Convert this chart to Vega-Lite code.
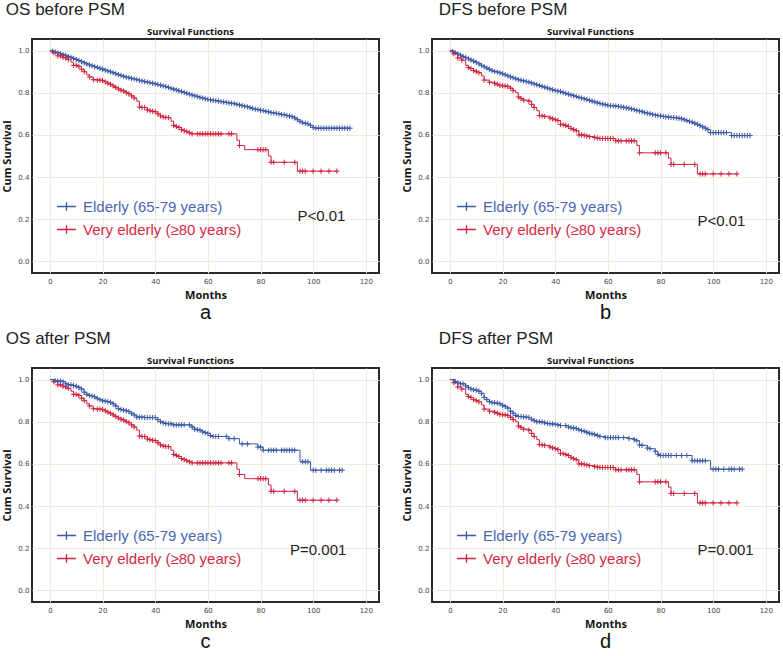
{
"$schema": "https://vega.github.io/schema/vega-lite/v6.json",
"padding": {"left": 0, "top": 0, "right": 0, "bottom": 0},
"background": "white",
"config": {
  "view": {"stroke": "#2a2a2a", "strokeWidth": 2},
  "axis": {"grid": true, "gridColor": "#f0eadb", "gridWidth": 1, "ticks": false, "domain": false,
    "labelFont": "DejaVu Sans", "labelFontSize": 7, "labelColor": "#444",
    "titleFont": "Open Sans", "titleFontSize": 11, "titleFontWeight": "bold", "titleColor": "#111"},
  "axisX": {"labelPadding": 4, "titlePadding": 5},
  "axisY": {"labelPadding": 3, "titlePadding": 5}
},
"datasets": {"km": [
{"m":"OS","s":"b","g":"E","t":0,"v":1,"c":0},{"m":"OS","s":"b","g":"E","t":1,"v":0.997,"c":1},{"m":"OS","s":"b","g":"E","t":2,"v":0.993,"c":1},{"m":"OS","s":"b","g":"E","t":3,"v":0.989,"c":1},{"m":"OS","s":"b","g":"E","t":4,"v":0.985,"c":1},{"m":"OS","s":"b","g":"E","t":5,"v":0.981,"c":1},{"m":"OS","s":"b","g":"E","t":6,"v":0.977,"c":1},{"m":"OS","s":"b","g":"E","t":7,"v":0.972,"c":1},{"m":"OS","s":"b","g":"E","t":8,"v":0.968,"c":1},{"m":"OS","s":"b","g":"E","t":9,"v":0.963,"c":1},{"m":"OS","s":"b","g":"E","t":10,"v":0.958,"c":1},{"m":"OS","s":"b","g":"E","t":11,"v":0.953,"c":1},{"m":"OS","s":"b","g":"E","t":12,"v":0.948,"c":1},{"m":"OS","s":"b","g":"E","t":13,"v":0.942,"c":1},{"m":"OS","s":"b","g":"E","t":14,"v":0.937,"c":1},{"m":"OS","s":"b","g":"E","t":15,"v":0.932,"c":1},{"m":"OS","s":"b","g":"E","t":16,"v":0.928,"c":1},{"m":"OS","s":"b","g":"E","t":17,"v":0.924,"c":1},{"m":"OS","s":"b","g":"E","t":18,"v":0.92,"c":1},{"m":"OS","s":"b","g":"E","t":19,"v":0.916,"c":1},{"m":"OS","s":"b","g":"E","t":20,"v":0.912,"c":1},{"m":"OS","s":"b","g":"E","t":21,"v":0.907,"c":1},{"m":"OS","s":"b","g":"E","t":22,"v":0.903,"c":1},{"m":"OS","s":"b","g":"E","t":23,"v":0.899,"c":1},{"m":"OS","s":"b","g":"E","t":24,"v":0.895,"c":1},{"m":"OS","s":"b","g":"E","t":25,"v":0.89,"c":1},{"m":"OS","s":"b","g":"E","t":26,"v":0.886,"c":1},{"m":"OS","s":"b","g":"E","t":27,"v":0.882,"c":1},{"m":"OS","s":"b","g":"E","t":28,"v":0.878,"c":1},{"m":"OS","s":"b","g":"E","t":29,"v":0.874,"c":1},{"m":"OS","s":"b","g":"E","t":30,"v":0.871,"c":1},{"m":"OS","s":"b","g":"E","t":31,"v":0.868,"c":1},{"m":"OS","s":"b","g":"E","t":32,"v":0.865,"c":1},{"m":"OS","s":"b","g":"E","t":33,"v":0.862,"c":1},{"m":"OS","s":"b","g":"E","t":34,"v":0.859,"c":1},{"m":"OS","s":"b","g":"E","t":35,"v":0.856,"c":1},{"m":"OS","s":"b","g":"E","t":36,"v":0.853,"c":1},{"m":"OS","s":"b","g":"E","t":37,"v":0.85,"c":1},{"m":"OS","s":"b","g":"E","t":38,"v":0.848,"c":1},{"m":"OS","s":"b","g":"E","t":39,"v":0.845,"c":1},{"m":"OS","s":"b","g":"E","t":40,"v":0.842,"c":1},{"m":"OS","s":"b","g":"E","t":41,"v":0.839,"c":1},{"m":"OS","s":"b","g":"E","t":42,"v":0.836,"c":1},{"m":"OS","s":"b","g":"E","t":43,"v":0.832,"c":1},{"m":"OS","s":"b","g":"E","t":44,"v":0.829,"c":1},{"m":"OS","s":"b","g":"E","t":45,"v":0.825,"c":1},{"m":"OS","s":"b","g":"E","t":46,"v":0.821,"c":1},{"m":"OS","s":"b","g":"E","t":47,"v":0.817,"c":1},{"m":"OS","s":"b","g":"E","t":48,"v":0.813,"c":1},{"m":"OS","s":"b","g":"E","t":49,"v":0.809,"c":1},{"m":"OS","s":"b","g":"E","t":50,"v":0.805,"c":1},{"m":"OS","s":"b","g":"E","t":51,"v":0.801,"c":1},{"m":"OS","s":"b","g":"E","t":52,"v":0.797,"c":1},{"m":"OS","s":"b","g":"E","t":53,"v":0.793,"c":1},{"m":"OS","s":"b","g":"E","t":54,"v":0.789,"c":1},{"m":"OS","s":"b","g":"E","t":55,"v":0.785,"c":1},{"m":"OS","s":"b","g":"E","t":56,"v":0.782,"c":1},{"m":"OS","s":"b","g":"E","t":57,"v":0.778,"c":1},{"m":"OS","s":"b","g":"E","t":58,"v":0.775,"c":1},{"m":"OS","s":"b","g":"E","t":59,"v":0.771,"c":1},{"m":"OS","s":"b","g":"E","t":60,"v":0.768,"c":1},{"m":"OS","s":"b","g":"E","t":61,"v":0.766,"c":1},{"m":"OS","s":"b","g":"E","t":62,"v":0.764,"c":1},{"m":"OS","s":"b","g":"E","t":63,"v":0.762,"c":1},{"m":"OS","s":"b","g":"E","t":64,"v":0.76,"c":1},{"m":"OS","s":"b","g":"E","t":65,"v":0.758,"c":1},{"m":"OS","s":"b","g":"E","t":66,"v":0.756,"c":1},{"m":"OS","s":"b","g":"E","t":67,"v":0.754,"c":1},{"m":"OS","s":"b","g":"E","t":68,"v":0.752,"c":1},{"m":"OS","s":"b","g":"E","t":69,"v":0.75,"c":1},{"m":"OS","s":"b","g":"E","t":70,"v":0.748,"c":1},{"m":"OS","s":"b","g":"E","t":71,"v":0.745,"c":1},{"m":"OS","s":"b","g":"E","t":72,"v":0.742,"c":1},{"m":"OS","s":"b","g":"E","t":73,"v":0.739,"c":1},{"m":"OS","s":"b","g":"E","t":74,"v":0.736,"c":1},{"m":"OS","s":"b","g":"E","t":75,"v":0.733,"c":1},{"m":"OS","s":"b","g":"E","t":76,"v":0.729,"c":1},{"m":"OS","s":"b","g":"E","t":77,"v":0.725,"c":1},{"m":"OS","s":"b","g":"E","t":78,"v":0.722,"c":1},{"m":"OS","s":"b","g":"E","t":79,"v":0.72,"c":1},{"m":"OS","s":"b","g":"E","t":80,"v":0.717,"c":1},{"m":"OS","s":"b","g":"E","t":81,"v":0.715,"c":1},{"m":"OS","s":"b","g":"E","t":82,"v":0.712,"c":1},{"m":"OS","s":"b","g":"E","t":83,"v":0.709,"c":1},{"m":"OS","s":"b","g":"E","t":84,"v":0.706,"c":1},{"m":"OS","s":"b","g":"E","t":85,"v":0.704,"c":1},{"m":"OS","s":"b","g":"E","t":86,"v":0.702,"c":1},{"m":"OS","s":"b","g":"E","t":87,"v":0.7,"c":1},{"m":"OS","s":"b","g":"E","t":88,"v":0.697,"c":1},{"m":"OS","s":"b","g":"E","t":89,"v":0.695,"c":1},{"m":"OS","s":"b","g":"E","t":90,"v":0.692,"c":1},{"m":"OS","s":"b","g":"E","t":91,"v":0.689,"c":1},{"m":"OS","s":"b","g":"E","t":92,"v":0.686,"c":1},{"m":"OS","s":"b","g":"E","t":93,"v":0.68,"c":1},{"m":"OS","s":"b","g":"E","t":94,"v":0.672,"c":1},{"m":"OS","s":"b","g":"E","t":95,"v":0.664,"c":1},{"m":"OS","s":"b","g":"E","t":96,"v":0.658,"c":1},{"m":"OS","s":"b","g":"E","t":97,"v":0.655,"c":1},{"m":"OS","s":"b","g":"E","t":98,"v":0.652,"c":1},{"m":"OS","s":"b","g":"E","t":99,"v":0.645,"c":1},{"m":"OS","s":"b","g":"E","t":100,"v":0.635,"c":1},{"m":"OS","s":"b","g":"E","t":101,"v":0.632,"c":1},{"m":"OS","s":"b","g":"E","t":102,"v":0.632,"c":1},{"m":"OS","s":"b","g":"E","t":103,"v":0.632,"c":1},{"m":"OS","s":"b","g":"E","t":104,"v":0.632,"c":1},{"m":"OS","s":"b","g":"E","t":105,"v":0.632,"c":1},{"m":"OS","s":"b","g":"E","t":106,"v":0.632,"c":1},{"m":"OS","s":"b","g":"E","t":107,"v":0.632,"c":1},{"m":"OS","s":"b","g":"E","t":108,"v":0.632,"c":1},{"m":"OS","s":"b","g":"E","t":109,"v":0.632,"c":1},{"m":"OS","s":"b","g":"E","t":110,"v":0.632,"c":1},{"m":"OS","s":"b","g":"E","t":111,"v":0.632,"c":1},{"m":"OS","s":"b","g":"E","t":112,"v":0.632,"c":1},{"m":"OS","s":"b","g":"E","t":113,"v":0.632,"c":1},{"m":"OS","s":"b","g":"E","t":114,"v":0.632,"c":1},

{"m":"OS","s":"x","g":"V","t":0,"v":1,"c":0},{"m":"OS","s":"x","g":"V","t":1.5,"v":0.99,"c":1},{"m":"OS","s":"x","g":"V","t":3,"v":0.975,"c":1},{"m":"OS","s":"x","g":"V","t":4,"v":0.975,"c":1},{"m":"OS","s":"x","g":"V","t":5,"v":0.968,"c":1},{"m":"OS","s":"x","g":"V","t":6,"v":0.965,"c":1},{"m":"OS","s":"x","g":"V","t":7,"v":0.958,"c":1},{"m":"OS","s":"x","g":"V","t":8,"v":0.945,"c":0},{"m":"OS","s":"x","g":"V","t":9,"v":0.93,"c":1},{"m":"OS","s":"x","g":"V","t":10,"v":0.93,"c":1},{"m":"OS","s":"x","g":"V","t":11,"v":0.925,"c":1},{"m":"OS","s":"x","g":"V","t":12,"v":0.912,"c":1},{"m":"OS","s":"x","g":"V","t":13,"v":0.9,"c":1},{"m":"OS","s":"x","g":"V","t":14,"v":0.885,"c":0},{"m":"OS","s":"x","g":"V","t":15,"v":0.875,"c":1},{"m":"OS","s":"x","g":"V","t":16.5,"v":0.862,"c":1},{"m":"OS","s":"x","g":"V","t":18,"v":0.86,"c":1},{"m":"OS","s":"x","g":"V","t":19,"v":0.86,"c":1},{"m":"OS","s":"x","g":"V","t":20,"v":0.858,"c":1},{"m":"OS","s":"x","g":"V","t":21,"v":0.852,"c":1},{"m":"OS","s":"x","g":"V","t":22,"v":0.845,"c":1},{"m":"OS","s":"x","g":"V","t":23,"v":0.84,"c":1},{"m":"OS","s":"x","g":"V","t":24,"v":0.832,"c":1},{"m":"OS","s":"x","g":"V","t":25,"v":0.825,"c":1},{"m":"OS","s":"x","g":"V","t":26,"v":0.818,"c":1},{"m":"OS","s":"x","g":"V","t":27,"v":0.812,"c":1},{"m":"OS","s":"x","g":"V","t":28,"v":0.808,"c":1},{"m":"OS","s":"x","g":"V","t":29,"v":0.8,"c":1},{"m":"OS","s":"x","g":"V","t":30,"v":0.795,"c":1},{"m":"OS","s":"x","g":"V","t":31,"v":0.785,"c":1},{"m":"OS","s":"x","g":"V","t":32,"v":0.775,"c":1},{"m":"OS","s":"x","g":"V","t":33,"v":0.76,"c":0},{"m":"OS","s":"x","g":"V","t":34,"v":0.732,"c":1},{"m":"OS","s":"x","g":"V","t":35,"v":0.73,"c":1},{"m":"OS","s":"x","g":"V","t":36,"v":0.73,"c":1},{"m":"OS","s":"x","g":"V","t":37,"v":0.718,"c":1},{"m":"OS","s":"x","g":"V","t":38,"v":0.715,"c":1},{"m":"OS","s":"x","g":"V","t":39,"v":0.712,"c":1},{"m":"OS","s":"x","g":"V","t":40,"v":0.71,"c":1},{"m":"OS","s":"x","g":"V","t":41,"v":0.7,"c":1},{"m":"OS","s":"x","g":"V","t":42,"v":0.69,"c":1},{"m":"OS","s":"x","g":"V","t":43,"v":0.685,"c":1},{"m":"OS","s":"x","g":"V","t":44,"v":0.683,"c":1},{"m":"OS","s":"x","g":"V","t":45,"v":0.682,"c":1},{"m":"OS","s":"x","g":"V","t":46,"v":0.665,"c":0},{"m":"OS","s":"x","g":"V","t":47,"v":0.645,"c":1},{"m":"OS","s":"x","g":"V","t":48,"v":0.64,"c":1},{"m":"OS","s":"x","g":"V","t":49,"v":0.635,"c":1},{"m":"OS","s":"x","g":"V","t":50,"v":0.625,"c":1},{"m":"OS","s":"x","g":"V","t":51,"v":0.62,"c":1},{"m":"OS","s":"x","g":"V","t":52,"v":0.615,"c":1},{"m":"OS","s":"x","g":"V","t":53,"v":0.61,"c":1},{"m":"OS","s":"x","g":"V","t":54,"v":0.605,"c":1},{"m":"OS","s":"x","g":"V","t":56,"v":0.605,"c":1},{"m":"OS","s":"x","g":"V","t":57,"v":0.605,"c":1},{"m":"OS","s":"x","g":"V","t":58,"v":0.605,"c":1},{"m":"OS","s":"x","g":"V","t":59,"v":0.605,"c":1},{"m":"OS","s":"x","g":"V","t":60,"v":0.605,"c":1},{"m":"OS","s":"x","g":"V","t":61,"v":0.605,"c":1},{"m":"OS","s":"x","g":"V","t":62,"v":0.605,"c":1},{"m":"OS","s":"x","g":"V","t":63,"v":0.605,"c":1},{"m":"OS","s":"x","g":"V","t":64,"v":0.605,"c":1},{"m":"OS","s":"x","g":"V","t":65,"v":0.605,"c":1},{"m":"OS","s":"x","g":"V","t":68,"v":0.605,"c":1},{"m":"OS","s":"x","g":"V","t":69,"v":0.605,"c":1},{"m":"OS","s":"x","g":"V","t":71,"v":0.575,"c":0},{"m":"OS","s":"x","g":"V","t":72,"v":0.55,"c":1},{"m":"OS","s":"x","g":"V","t":74,"v":0.53,"c":0},{"m":"OS","s":"x","g":"V","t":79,"v":0.53,"c":1},{"m":"OS","s":"x","g":"V","t":80,"v":0.53,"c":1},{"m":"OS","s":"x","g":"V","t":81,"v":0.53,"c":1},{"m":"OS","s":"x","g":"V","t":82,"v":0.53,"c":1},{"m":"OS","s":"x","g":"V","t":83,"v":0.5,"c":0},{"m":"OS","s":"x","g":"V","t":84,"v":0.47,"c":1},{"m":"OS","s":"x","g":"V","t":85,"v":0.47,"c":1},{"m":"OS","s":"x","g":"V","t":89,"v":0.47,"c":1},{"m":"OS","s":"x","g":"V","t":93,"v":0.47,"c":1},{"m":"OS","s":"x","g":"V","t":94,"v":0.428,"c":0},{"m":"OS","s":"x","g":"V","t":95,"v":0.428,"c":1},{"m":"OS","s":"x","g":"V","t":96,"v":0.428,"c":1},{"m":"OS","s":"x","g":"V","t":97,"v":0.428,"c":1},{"m":"OS","s":"x","g":"V","t":100,"v":0.428,"c":1},{"m":"OS","s":"x","g":"V","t":103,"v":0.428,"c":1},{"m":"OS","s":"x","g":"V","t":106,"v":0.428,"c":1},{"m":"OS","s":"x","g":"V","t":109,"v":0.428,"c":1},

{"m":"DFS","s":"b","g":"E","t":0,"v":1,"c":0},{"m":"DFS","s":"b","g":"E","t":1,"v":0.995,"c":1},{"m":"DFS","s":"b","g":"E","t":2,"v":0.99,"c":1},{"m":"DFS","s":"b","g":"E","t":3,"v":0.984,"c":1},{"m":"DFS","s":"b","g":"E","t":4,"v":0.978,"c":1},{"m":"DFS","s":"b","g":"E","t":5,"v":0.972,"c":1},{"m":"DFS","s":"b","g":"E","t":6,"v":0.967,"c":1},{"m":"DFS","s":"b","g":"E","t":7,"v":0.961,"c":1},{"m":"DFS","s":"b","g":"E","t":8,"v":0.955,"c":1},{"m":"DFS","s":"b","g":"E","t":9,"v":0.95,"c":1},{"m":"DFS","s":"b","g":"E","t":10,"v":0.944,"c":1},{"m":"DFS","s":"b","g":"E","t":11,"v":0.937,"c":1},{"m":"DFS","s":"b","g":"E","t":12,"v":0.93,"c":1},{"m":"DFS","s":"b","g":"E","t":13,"v":0.923,"c":1},{"m":"DFS","s":"b","g":"E","t":14,"v":0.917,"c":1},{"m":"DFS","s":"b","g":"E","t":15,"v":0.911,"c":1},{"m":"DFS","s":"b","g":"E","t":16,"v":0.905,"c":1},{"m":"DFS","s":"b","g":"E","t":17,"v":0.901,"c":1},{"m":"DFS","s":"b","g":"E","t":18,"v":0.898,"c":1},{"m":"DFS","s":"b","g":"E","t":19,"v":0.894,"c":1},{"m":"DFS","s":"b","g":"E","t":20,"v":0.89,"c":1},{"m":"DFS","s":"b","g":"E","t":21,"v":0.885,"c":1},{"m":"DFS","s":"b","g":"E","t":22,"v":0.88,"c":1},{"m":"DFS","s":"b","g":"E","t":23,"v":0.875,"c":1},{"m":"DFS","s":"b","g":"E","t":24,"v":0.871,"c":1},{"m":"DFS","s":"b","g":"E","t":25,"v":0.866,"c":1},{"m":"DFS","s":"b","g":"E","t":26,"v":0.862,"c":1},{"m":"DFS","s":"b","g":"E","t":27,"v":0.859,"c":1},{"m":"DFS","s":"b","g":"E","t":28,"v":0.856,"c":1},{"m":"DFS","s":"b","g":"E","t":29,"v":0.853,"c":1},{"m":"DFS","s":"b","g":"E","t":30,"v":0.85,"c":1},{"m":"DFS","s":"b","g":"E","t":31,"v":0.846,"c":1},{"m":"DFS","s":"b","g":"E","t":32,"v":0.842,"c":1},{"m":"DFS","s":"b","g":"E","t":33,"v":0.838,"c":1},{"m":"DFS","s":"b","g":"E","t":34,"v":0.834,"c":1},{"m":"DFS","s":"b","g":"E","t":35,"v":0.83,"c":1},{"m":"DFS","s":"b","g":"E","t":36,"v":0.826,"c":1},{"m":"DFS","s":"b","g":"E","t":37,"v":0.822,"c":1},{"m":"DFS","s":"b","g":"E","t":38,"v":0.818,"c":1},{"m":"DFS","s":"b","g":"E","t":39,"v":0.814,"c":1},{"m":"DFS","s":"b","g":"E","t":40,"v":0.811,"c":1},{"m":"DFS","s":"b","g":"E","t":41,"v":0.808,"c":1},{"m":"DFS","s":"b","g":"E","t":42,"v":0.805,"c":1},{"m":"DFS","s":"b","g":"E","t":43,"v":0.801,"c":1},{"m":"DFS","s":"b","g":"E","t":44,"v":0.797,"c":1},{"m":"DFS","s":"b","g":"E","t":45,"v":0.793,"c":1},{"m":"DFS","s":"b","g":"E","t":46,"v":0.789,"c":1},{"m":"DFS","s":"b","g":"E","t":47,"v":0.786,"c":1},{"m":"DFS","s":"b","g":"E","t":48,"v":0.782,"c":1},{"m":"DFS","s":"b","g":"E","t":49,"v":0.778,"c":1},{"m":"DFS","s":"b","g":"E","t":50,"v":0.775,"c":1},{"m":"DFS","s":"b","g":"E","t":51,"v":0.771,"c":1},{"m":"DFS","s":"b","g":"E","t":52,"v":0.768,"c":1},{"m":"DFS","s":"b","g":"E","t":53,"v":0.764,"c":1},{"m":"DFS","s":"b","g":"E","t":54,"v":0.76,"c":1},{"m":"DFS","s":"b","g":"E","t":55,"v":0.756,"c":1},{"m":"DFS","s":"b","g":"E","t":56,"v":0.752,"c":1},{"m":"DFS","s":"b","g":"E","t":57,"v":0.749,"c":1},{"m":"DFS","s":"b","g":"E","t":58,"v":0.746,"c":1},{"m":"DFS","s":"b","g":"E","t":59,"v":0.743,"c":1},{"m":"DFS","s":"b","g":"E","t":60,"v":0.74,"c":1},{"m":"DFS","s":"b","g":"E","t":61,"v":0.739,"c":1},{"m":"DFS","s":"b","g":"E","t":62,"v":0.738,"c":1},{"m":"DFS","s":"b","g":"E","t":63,"v":0.737,"c":1},{"m":"DFS","s":"b","g":"E","t":64,"v":0.735,"c":1},{"m":"DFS","s":"b","g":"E","t":65,"v":0.733,"c":1},{"m":"DFS","s":"b","g":"E","t":66,"v":0.731,"c":1},{"m":"DFS","s":"b","g":"E","t":67,"v":0.728,"c":1},{"m":"DFS","s":"b","g":"E","t":68,"v":0.726,"c":1},{"m":"DFS","s":"b","g":"E","t":69,"v":0.723,"c":1},{"m":"DFS","s":"b","g":"E","t":70,"v":0.72,"c":1},{"m":"DFS","s":"b","g":"E","t":71,"v":0.716,"c":1},{"m":"DFS","s":"b","g":"E","t":72,"v":0.713,"c":1},{"m":"DFS","s":"b","g":"E","t":73,"v":0.71,"c":1},{"m":"DFS","s":"b","g":"E","t":74,"v":0.706,"c":1},{"m":"DFS","s":"b","g":"E","t":75,"v":0.703,"c":1},{"m":"DFS","s":"b","g":"E","t":76,"v":0.7,"c":1},{"m":"DFS","s":"b","g":"E","t":77,"v":0.697,"c":1},{"m":"DFS","s":"b","g":"E","t":78,"v":0.694,"c":1},{"m":"DFS","s":"b","g":"E","t":79,"v":0.692,"c":1},{"m":"DFS","s":"b","g":"E","t":80,"v":0.69,"c":1},{"m":"DFS","s":"b","g":"E","t":81,"v":0.688,"c":1},{"m":"DFS","s":"b","g":"E","t":82,"v":0.686,"c":1},{"m":"DFS","s":"b","g":"E","t":83,"v":0.685,"c":1},{"m":"DFS","s":"b","g":"E","t":84,"v":0.683,"c":1},{"m":"DFS","s":"b","g":"E","t":85,"v":0.682,"c":1},{"m":"DFS","s":"b","g":"E","t":86,"v":0.681,"c":1},{"m":"DFS","s":"b","g":"E","t":87,"v":0.679,"c":1},{"m":"DFS","s":"b","g":"E","t":88,"v":0.676,"c":1},{"m":"DFS","s":"b","g":"E","t":89,"v":0.672,"c":1},{"m":"DFS","s":"b","g":"E","t":90,"v":0.668,"c":1},{"m":"DFS","s":"b","g":"E","t":91,"v":0.664,"c":1},{"m":"DFS","s":"b","g":"E","t":92,"v":0.66,"c":1},{"m":"DFS","s":"b","g":"E","t":93,"v":0.655,"c":1},{"m":"DFS","s":"b","g":"E","t":94,"v":0.65,"c":1},{"m":"DFS","s":"b","g":"E","t":95,"v":0.644,"c":1},{"m":"DFS","s":"b","g":"E","t":96,"v":0.638,"c":1},{"m":"DFS","s":"b","g":"E","t":97,"v":0.632,"c":1},{"m":"DFS","s":"b","g":"E","t":98,"v":0.625,"c":1},{"m":"DFS","s":"b","g":"E","t":99,"v":0.611,"c":1},{"m":"DFS","s":"b","g":"E","t":100,"v":0.611,"c":1},{"m":"DFS","s":"b","g":"E","t":101,"v":0.611,"c":1},{"m":"DFS","s":"b","g":"E","t":102,"v":0.611,"c":1},{"m":"DFS","s":"b","g":"E","t":103,"v":0.611,"c":1},{"m":"DFS","s":"b","g":"E","t":104,"v":0.611,"c":1},{"m":"DFS","s":"b","g":"E","t":105,"v":0.611,"c":1},{"m":"DFS","s":"b","g":"E","t":107,"v":0.597,"c":1},{"m":"DFS","s":"b","g":"E","t":108,"v":0.597,"c":1},{"m":"DFS","s":"b","g":"E","t":109,"v":0.597,"c":1},{"m":"DFS","s":"b","g":"E","t":110,"v":0.597,"c":1},{"m":"DFS","s":"b","g":"E","t":111,"v":0.597,"c":1},{"m":"DFS","s":"b","g":"E","t":112,"v":0.597,"c":1},{"m":"DFS","s":"b","g":"E","t":113,"v":0.597,"c":1},{"m":"DFS","s":"b","g":"E","t":114,"v":0.597,"c":1},

{"m":"DFS","s":"x","g":"V","t":0,"v":1,"c":0},{"m":"DFS","s":"x","g":"V","t":1.5,"v":0.985,"c":1},{"m":"DFS","s":"x","g":"V","t":3,"v":0.965,"c":1},{"m":"DFS","s":"x","g":"V","t":4.5,"v":0.955,"c":1},{"m":"DFS","s":"x","g":"V","t":6,"v":0.93,"c":0},{"m":"DFS","s":"x","g":"V","t":7,"v":0.92,"c":1},{"m":"DFS","s":"x","g":"V","t":8,"v":0.915,"c":1},{"m":"DFS","s":"x","g":"V","t":9,"v":0.905,"c":1},{"m":"DFS","s":"x","g":"V","t":10,"v":0.9,"c":1},{"m":"DFS","s":"x","g":"V","t":11,"v":0.895,"c":1},{"m":"DFS","s":"x","g":"V","t":12,"v":0.88,"c":0},{"m":"DFS","s":"x","g":"V","t":13,"v":0.86,"c":1},{"m":"DFS","s":"x","g":"V","t":15,"v":0.85,"c":1},{"m":"DFS","s":"x","g":"V","t":17,"v":0.845,"c":1},{"m":"DFS","s":"x","g":"V","t":18,"v":0.84,"c":1},{"m":"DFS","s":"x","g":"V","t":19,"v":0.835,"c":1},{"m":"DFS","s":"x","g":"V","t":20,"v":0.833,"c":1},{"m":"DFS","s":"x","g":"V","t":21,"v":0.832,"c":1},{"m":"DFS","s":"x","g":"V","t":22,"v":0.83,"c":1},{"m":"DFS","s":"x","g":"V","t":23,"v":0.822,"c":1},{"m":"DFS","s":"x","g":"V","t":24,"v":0.81,"c":1},{"m":"DFS","s":"x","g":"V","t":25,"v":0.8,"c":0},{"m":"DFS","s":"x","g":"V","t":26,"v":0.78,"c":1},{"m":"DFS","s":"x","g":"V","t":27,"v":0.772,"c":1},{"m":"DFS","s":"x","g":"V","t":28,"v":0.765,"c":1},{"m":"DFS","s":"x","g":"V","t":30,"v":0.76,"c":1},{"m":"DFS","s":"x","g":"V","t":31,"v":0.745,"c":1},{"m":"DFS","s":"x","g":"V","t":32,"v":0.73,"c":1},{"m":"DFS","s":"x","g":"V","t":33,"v":0.715,"c":0},{"m":"DFS","s":"x","g":"V","t":34,"v":0.692,"c":1},{"m":"DFS","s":"x","g":"V","t":35,"v":0.69,"c":1},{"m":"DFS","s":"x","g":"V","t":36,"v":0.688,"c":1},{"m":"DFS","s":"x","g":"V","t":38,"v":0.68,"c":1},{"m":"DFS","s":"x","g":"V","t":39,"v":0.676,"c":1},{"m":"DFS","s":"x","g":"V","t":40,"v":0.672,"c":1},{"m":"DFS","s":"x","g":"V","t":41,"v":0.668,"c":1},{"m":"DFS","s":"x","g":"V","t":42,"v":0.65,"c":1},{"m":"DFS","s":"x","g":"V","t":43,"v":0.648,"c":1},{"m":"DFS","s":"x","g":"V","t":44,"v":0.645,"c":1},{"m":"DFS","s":"x","g":"V","t":45,"v":0.64,"c":1},{"m":"DFS","s":"x","g":"V","t":46,"v":0.63,"c":1},{"m":"DFS","s":"x","g":"V","t":47,"v":0.625,"c":1},{"m":"DFS","s":"x","g":"V","t":48,"v":0.62,"c":1},{"m":"DFS","s":"x","g":"V","t":49,"v":0.6,"c":1},{"m":"DFS","s":"x","g":"V","t":50,"v":0.6,"c":1},{"m":"DFS","s":"x","g":"V","t":51,"v":0.598,"c":1},{"m":"DFS","s":"x","g":"V","t":52,"v":0.595,"c":1},{"m":"DFS","s":"x","g":"V","t":53,"v":0.592,"c":1},{"m":"DFS","s":"x","g":"V","t":55,"v":0.588,"c":1},{"m":"DFS","s":"x","g":"V","t":56,"v":0.585,"c":1},{"m":"DFS","s":"x","g":"V","t":57,"v":0.583,"c":1},{"m":"DFS","s":"x","g":"V","t":58,"v":0.583,"c":1},{"m":"DFS","s":"x","g":"V","t":59,"v":0.583,"c":1},{"m":"DFS","s":"x","g":"V","t":60,"v":0.583,"c":1},{"m":"DFS","s":"x","g":"V","t":61,"v":0.583,"c":1},{"m":"DFS","s":"x","g":"V","t":62,"v":0.583,"c":1},{"m":"DFS","s":"x","g":"V","t":63,"v":0.572,"c":1},{"m":"DFS","s":"x","g":"V","t":64,"v":0.572,"c":1},{"m":"DFS","s":"x","g":"V","t":65,"v":0.572,"c":1},{"m":"DFS","s":"x","g":"V","t":67,"v":0.572,"c":1},{"m":"DFS","s":"x","g":"V","t":68,"v":0.572,"c":1},{"m":"DFS","s":"x","g":"V","t":69,"v":0.572,"c":1},{"m":"DFS","s":"x","g":"V","t":70,"v":0.572,"c":1},{"m":"DFS","s":"x","g":"V","t":71,"v":0.55,"c":0},{"m":"DFS","s":"x","g":"V","t":72,"v":0.515,"c":1},{"m":"DFS","s":"x","g":"V","t":78,"v":0.515,"c":1},{"m":"DFS","s":"x","g":"V","t":79,"v":0.515,"c":1},{"m":"DFS","s":"x","g":"V","t":80,"v":0.515,"c":1},{"m":"DFS","s":"x","g":"V","t":82,"v":0.515,"c":1},{"m":"DFS","s":"x","g":"V","t":83,"v":0.49,"c":0},{"m":"DFS","s":"x","g":"V","t":84,"v":0.46,"c":1},{"m":"DFS","s":"x","g":"V","t":85,"v":0.46,"c":1},{"m":"DFS","s":"x","g":"V","t":89,"v":0.46,"c":1},{"m":"DFS","s":"x","g":"V","t":93,"v":0.46,"c":1},{"m":"DFS","s":"x","g":"V","t":94,"v":0.415,"c":0},{"m":"DFS","s":"x","g":"V","t":95,"v":0.415,"c":1},{"m":"DFS","s":"x","g":"V","t":96,"v":0.415,"c":1},{"m":"DFS","s":"x","g":"V","t":97,"v":0.415,"c":1},{"m":"DFS","s":"x","g":"V","t":100,"v":0.415,"c":1},{"m":"DFS","s":"x","g":"V","t":103,"v":0.415,"c":1},{"m":"DFS","s":"x","g":"V","t":106,"v":0.415,"c":1},{"m":"DFS","s":"x","g":"V","t":109,"v":0.415,"c":1},

{"m":"OS","s":"a","g":"E","t":0,"v":1,"c":0},{"m":"OS","s":"a","g":"E","t":2,"v":0.995,"c":1},{"m":"OS","s":"a","g":"E","t":3,"v":0.993,"c":1},{"m":"OS","s":"a","g":"E","t":4,"v":0.993,"c":1},{"m":"OS","s":"a","g":"E","t":5,"v":0.99,"c":1},{"m":"OS","s":"a","g":"E","t":6,"v":0.98,"c":1},{"m":"OS","s":"a","g":"E","t":7,"v":0.975,"c":1},{"m":"OS","s":"a","g":"E","t":8,"v":0.975,"c":1},{"m":"OS","s":"a","g":"E","t":9,"v":0.972,"c":1},{"m":"OS","s":"a","g":"E","t":10,"v":0.968,"c":1},{"m":"OS","s":"a","g":"E","t":11,"v":0.962,"c":1},{"m":"OS","s":"a","g":"E","t":12,"v":0.955,"c":1},{"m":"OS","s":"a","g":"E","t":13,"v":0.94,"c":1},{"m":"OS","s":"a","g":"E","t":14,"v":0.93,"c":1},{"m":"OS","s":"a","g":"E","t":15,"v":0.925,"c":1},{"m":"OS","s":"a","g":"E","t":16,"v":0.922,"c":1},{"m":"OS","s":"a","g":"E","t":17,"v":0.918,"c":1},{"m":"OS","s":"a","g":"E","t":18,"v":0.91,"c":1},{"m":"OS","s":"a","g":"E","t":19,"v":0.905,"c":1},{"m":"OS","s":"a","g":"E","t":20,"v":0.9,"c":1},{"m":"OS","s":"a","g":"E","t":21,"v":0.898,"c":1},{"m":"OS","s":"a","g":"E","t":22,"v":0.895,"c":1},{"m":"OS","s":"a","g":"E","t":23,"v":0.892,"c":1},{"m":"OS","s":"a","g":"E","t":24,"v":0.885,"c":1},{"m":"OS","s":"a","g":"E","t":25,"v":0.875,"c":1},{"m":"OS","s":"a","g":"E","t":26,"v":0.862,"c":1},{"m":"OS","s":"a","g":"E","t":27,"v":0.858,"c":1},{"m":"OS","s":"a","g":"E","t":28,"v":0.855,"c":1},{"m":"OS","s":"a","g":"E","t":29,"v":0.852,"c":1},{"m":"OS","s":"a","g":"E","t":30,"v":0.848,"c":1},{"m":"OS","s":"a","g":"E","t":31,"v":0.84,"c":1},{"m":"OS","s":"a","g":"E","t":32,"v":0.832,"c":1},{"m":"OS","s":"a","g":"E","t":33,"v":0.822,"c":1},{"m":"OS","s":"a","g":"E","t":34,"v":0.822,"c":1},{"m":"OS","s":"a","g":"E","t":35,"v":0.822,"c":1},{"m":"OS","s":"a","g":"E","t":36,"v":0.82,"c":1},{"m":"OS","s":"a","g":"E","t":37,"v":0.82,"c":1},{"m":"OS","s":"a","g":"E","t":38,"v":0.82,"c":1},{"m":"OS","s":"a","g":"E","t":39,"v":0.82,"c":1},{"m":"OS","s":"a","g":"E","t":40,"v":0.82,"c":1},{"m":"OS","s":"a","g":"E","t":41,"v":0.81,"c":1},{"m":"OS","s":"a","g":"E","t":42,"v":0.8,"c":1},{"m":"OS","s":"a","g":"E","t":43,"v":0.795,"c":1},{"m":"OS","s":"a","g":"E","t":44,"v":0.792,"c":1},{"m":"OS","s":"a","g":"E","t":45,"v":0.79,"c":1},{"m":"OS","s":"a","g":"E","t":46,"v":0.79,"c":1},{"m":"OS","s":"a","g":"E","t":47,"v":0.785,"c":1},{"m":"OS","s":"a","g":"E","t":48,"v":0.785,"c":1},{"m":"OS","s":"a","g":"E","t":49,"v":0.785,"c":1},{"m":"OS","s":"a","g":"E","t":50,"v":0.785,"c":1},{"m":"OS","s":"a","g":"E","t":51,"v":0.785,"c":1},{"m":"OS","s":"a","g":"E","t":53,"v":0.785,"c":1},{"m":"OS","s":"a","g":"E","t":54,"v":0.775,"c":1},{"m":"OS","s":"a","g":"E","t":55,"v":0.765,"c":1},{"m":"OS","s":"a","g":"E","t":56,"v":0.762,"c":1},{"m":"OS","s":"a","g":"E","t":57,"v":0.76,"c":1},{"m":"OS","s":"a","g":"E","t":58,"v":0.752,"c":1},{"m":"OS","s":"a","g":"E","t":59,"v":0.748,"c":1},{"m":"OS","s":"a","g":"E","t":60,"v":0.745,"c":1},{"m":"OS","s":"a","g":"E","t":61,"v":0.735,"c":1},{"m":"OS","s":"a","g":"E","t":62,"v":0.73,"c":1},{"m":"OS","s":"a","g":"E","t":63,"v":0.73,"c":1},{"m":"OS","s":"a","g":"E","t":64,"v":0.73,"c":1},{"m":"OS","s":"a","g":"E","t":67,"v":0.73,"c":1},{"m":"OS","s":"a","g":"E","t":68,"v":0.72,"c":1},{"m":"OS","s":"a","g":"E","t":70,"v":0.72,"c":1},{"m":"OS","s":"a","g":"E","t":72,"v":0.695,"c":0},{"m":"OS","s":"a","g":"E","t":73,"v":0.695,"c":1},{"m":"OS","s":"a","g":"E","t":75,"v":0.695,"c":1},{"m":"OS","s":"a","g":"E","t":79,"v":0.68,"c":1},{"m":"OS","s":"a","g":"E","t":80,"v":0.68,"c":1},{"m":"OS","s":"a","g":"E","t":81,"v":0.665,"c":1},{"m":"OS","s":"a","g":"E","t":83,"v":0.665,"c":1},{"m":"OS","s":"a","g":"E","t":84,"v":0.665,"c":1},{"m":"OS","s":"a","g":"E","t":85,"v":0.665,"c":1},{"m":"OS","s":"a","g":"E","t":86,"v":0.665,"c":1},{"m":"OS","s":"a","g":"E","t":88,"v":0.665,"c":1},{"m":"OS","s":"a","g":"E","t":89,"v":0.665,"c":1},{"m":"OS","s":"a","g":"E","t":90,"v":0.665,"c":1},{"m":"OS","s":"a","g":"E","t":91,"v":0.665,"c":1},{"m":"OS","s":"a","g":"E","t":92,"v":0.665,"c":1},{"m":"OS","s":"a","g":"E","t":93,"v":0.665,"c":1},{"m":"OS","s":"a","g":"E","t":95,"v":0.61,"c":0},{"m":"OS","s":"a","g":"E","t":96,"v":0.61,"c":1},{"m":"OS","s":"a","g":"E","t":97,"v":0.61,"c":1},{"m":"OS","s":"a","g":"E","t":98,"v":0.61,"c":1},{"m":"OS","s":"a","g":"E","t":99,"v":0.57,"c":0},{"m":"OS","s":"a","g":"E","t":100,"v":0.57,"c":1},{"m":"OS","s":"a","g":"E","t":101,"v":0.57,"c":1},{"m":"OS","s":"a","g":"E","t":103,"v":0.57,"c":1},{"m":"OS","s":"a","g":"E","t":105,"v":0.57,"c":1},{"m":"OS","s":"a","g":"E","t":106,"v":0.57,"c":1},{"m":"OS","s":"a","g":"E","t":107,"v":0.57,"c":1},{"m":"OS","s":"a","g":"E","t":108,"v":0.57,"c":1},{"m":"OS","s":"a","g":"E","t":110,"v":0.57,"c":1},{"m":"OS","s":"a","g":"E","t":111,"v":0.57,"c":1},

{"m":"DFS","s":"a","g":"E","t":0,"v":1,"c":0},{"m":"DFS","s":"a","g":"E","t":2,"v":0.99,"c":1},{"m":"DFS","s":"a","g":"E","t":3,"v":0.985,"c":1},{"m":"DFS","s":"a","g":"E","t":4,"v":0.98,"c":1},{"m":"DFS","s":"a","g":"E","t":5,"v":0.98,"c":1},{"m":"DFS","s":"a","g":"E","t":6,"v":0.97,"c":1},{"m":"DFS","s":"a","g":"E","t":7,"v":0.962,"c":1},{"m":"DFS","s":"a","g":"E","t":8,"v":0.955,"c":1},{"m":"DFS","s":"a","g":"E","t":9,"v":0.952,"c":1},{"m":"DFS","s":"a","g":"E","t":10,"v":0.95,"c":1},{"m":"DFS","s":"a","g":"E","t":11,"v":0.945,"c":1},{"m":"DFS","s":"a","g":"E","t":12,"v":0.935,"c":1},{"m":"DFS","s":"a","g":"E","t":13,"v":0.915,"c":1},{"m":"DFS","s":"a","g":"E","t":14,"v":0.905,"c":1},{"m":"DFS","s":"a","g":"E","t":15,"v":0.895,"c":1},{"m":"DFS","s":"a","g":"E","t":16,"v":0.89,"c":1},{"m":"DFS","s":"a","g":"E","t":17,"v":0.89,"c":1},{"m":"DFS","s":"a","g":"E","t":18,"v":0.888,"c":1},{"m":"DFS","s":"a","g":"E","t":19,"v":0.885,"c":1},{"m":"DFS","s":"a","g":"E","t":20,"v":0.878,"c":1},{"m":"DFS","s":"a","g":"E","t":21,"v":0.872,"c":1},{"m":"DFS","s":"a","g":"E","t":22,"v":0.865,"c":1},{"m":"DFS","s":"a","g":"E","t":23,"v":0.85,"c":1},{"m":"DFS","s":"a","g":"E","t":24,"v":0.84,"c":1},{"m":"DFS","s":"a","g":"E","t":25,"v":0.83,"c":1},{"m":"DFS","s":"a","g":"E","t":26,"v":0.825,"c":1},{"m":"DFS","s":"a","g":"E","t":27,"v":0.825,"c":1},{"m":"DFS","s":"a","g":"E","t":28,"v":0.823,"c":1},{"m":"DFS","s":"a","g":"E","t":29,"v":0.822,"c":1},{"m":"DFS","s":"a","g":"E","t":30,"v":0.82,"c":1},{"m":"DFS","s":"a","g":"E","t":31,"v":0.812,"c":1},{"m":"DFS","s":"a","g":"E","t":32,"v":0.805,"c":1},{"m":"DFS","s":"a","g":"E","t":33,"v":0.8,"c":1},{"m":"DFS","s":"a","g":"E","t":34,"v":0.8,"c":1},{"m":"DFS","s":"a","g":"E","t":35,"v":0.798,"c":1},{"m":"DFS","s":"a","g":"E","t":36,"v":0.795,"c":1},{"m":"DFS","s":"a","g":"E","t":37,"v":0.792,"c":1},{"m":"DFS","s":"a","g":"E","t":38,"v":0.79,"c":1},{"m":"DFS","s":"a","g":"E","t":39,"v":0.79,"c":1},{"m":"DFS","s":"a","g":"E","t":40,"v":0.788,"c":1},{"m":"DFS","s":"a","g":"E","t":41,"v":0.785,"c":1},{"m":"DFS","s":"a","g":"E","t":42,"v":0.782,"c":1},{"m":"DFS","s":"a","g":"E","t":44,"v":0.782,"c":1},{"m":"DFS","s":"a","g":"E","t":45,"v":0.775,"c":1},{"m":"DFS","s":"a","g":"E","t":46,"v":0.772,"c":1},{"m":"DFS","s":"a","g":"E","t":47,"v":0.77,"c":1},{"m":"DFS","s":"a","g":"E","t":48,"v":0.768,"c":1},{"m":"DFS","s":"a","g":"E","t":49,"v":0.762,"c":1},{"m":"DFS","s":"a","g":"E","t":50,"v":0.758,"c":1},{"m":"DFS","s":"a","g":"E","t":51,"v":0.755,"c":1},{"m":"DFS","s":"a","g":"E","t":52,"v":0.75,"c":1},{"m":"DFS","s":"a","g":"E","t":53,"v":0.745,"c":1},{"m":"DFS","s":"a","g":"E","t":54,"v":0.742,"c":1},{"m":"DFS","s":"a","g":"E","t":55,"v":0.74,"c":1},{"m":"DFS","s":"a","g":"E","t":56,"v":0.735,"c":1},{"m":"DFS","s":"a","g":"E","t":57,"v":0.73,"c":1},{"m":"DFS","s":"a","g":"E","t":59,"v":0.725,"c":1},{"m":"DFS","s":"a","g":"E","t":60,"v":0.725,"c":1},{"m":"DFS","s":"a","g":"E","t":61,"v":0.725,"c":1},{"m":"DFS","s":"a","g":"E","t":62,"v":0.725,"c":1},{"m":"DFS","s":"a","g":"E","t":63,"v":0.725,"c":1},{"m":"DFS","s":"a","g":"E","t":64,"v":0.725,"c":1},{"m":"DFS","s":"a","g":"E","t":66,"v":0.725,"c":1},{"m":"DFS","s":"a","g":"E","t":68,"v":0.72,"c":1},{"m":"DFS","s":"a","g":"E","t":70,"v":0.715,"c":1},{"m":"DFS","s":"a","g":"E","t":71,"v":0.71,"c":1},{"m":"DFS","s":"a","g":"E","t":72,"v":0.69,"c":1},{"m":"DFS","s":"a","g":"E","t":73,"v":0.688,"c":1},{"m":"DFS","s":"a","g":"E","t":75,"v":0.675,"c":1},{"m":"DFS","s":"a","g":"E","t":76,"v":0.672,"c":1},{"m":"DFS","s":"a","g":"E","t":78,"v":0.66,"c":1},{"m":"DFS","s":"a","g":"E","t":79,"v":0.645,"c":1},{"m":"DFS","s":"a","g":"E","t":80,"v":0.64,"c":1},{"m":"DFS","s":"a","g":"E","t":81,"v":0.64,"c":1},{"m":"DFS","s":"a","g":"E","t":82,"v":0.64,"c":1},{"m":"DFS","s":"a","g":"E","t":83,"v":0.64,"c":1},{"m":"DFS","s":"a","g":"E","t":84,"v":0.64,"c":1},{"m":"DFS","s":"a","g":"E","t":86,"v":0.64,"c":1},{"m":"DFS","s":"a","g":"E","t":88,"v":0.64,"c":1},{"m":"DFS","s":"a","g":"E","t":90,"v":0.64,"c":1},{"m":"DFS","s":"a","g":"E","t":92,"v":0.615,"c":1},{"m":"DFS","s":"a","g":"E","t":93,"v":0.615,"c":1},{"m":"DFS","s":"a","g":"E","t":94,"v":0.615,"c":1},{"m":"DFS","s":"a","g":"E","t":95,"v":0.615,"c":1},{"m":"DFS","s":"a","g":"E","t":96,"v":0.615,"c":1},{"m":"DFS","s":"a","g":"E","t":97,"v":0.615,"c":1},{"m":"DFS","s":"a","g":"E","t":99,"v":0.575,"c":0},{"m":"DFS","s":"a","g":"E","t":100,"v":0.575,"c":1},{"m":"DFS","s":"a","g":"E","t":101,"v":0.575,"c":1},{"m":"DFS","s":"a","g":"E","t":102,"v":0.575,"c":1},{"m":"DFS","s":"a","g":"E","t":104,"v":0.575,"c":1},{"m":"DFS","s":"a","g":"E","t":106,"v":0.575,"c":1},{"m":"DFS","s":"a","g":"E","t":107,"v":0.575,"c":1},{"m":"DFS","s":"a","g":"E","t":108,"v":0.575,"c":1},{"m":"DFS","s":"a","g":"E","t":110,"v":0.575,"c":1},{"m":"DFS","s":"a","g":"E","t":111,"v":0.575,"c":1}
],
"pv": [{"panel": "a", "p": "P<0.01"}, {"panel": "b", "p": "P<0.01"}, {"panel": "c", "p": "P=0.001"}, {"panel": "d", "p": "P=0.001"}]},
"spacing": 5,
"resolve": {"scale": {"color": "independent"}, "legend": {"color": "independent"}},
"vconcat": [
{"hconcat": [
 {"title": {"text": "OS before PSM", "anchor": "start", "font": "Liberation Sans", "fontSize": 17, "fontWeight": "normal", "color": "#222", "offset": 8, "dx": 5},
  "resolve": {"scale": {"color": "independent"}, "legend": {"color": "independent"}},
  "vconcat": [{"title": {"text": "Survival Functions", "anchor": "middle", "font": "Open Sans", "fontSize": 9.5, "fontWeight": "bold", "color": "#111", "offset": 2},
   "resolve": {"scale": {"color": "independent"}, "legend": {"color": "independent"}},
   "vconcat": [{
    "width": 347, "height": 234,
    "title": {"text": "a", "orient": "bottom", "anchor": "middle", "frame": "group", "font": "Liberation Sans", "fontSize": 20, "fontWeight": "normal", "color": "#111", "offset": 3},
    "layer": [
     {"data": {"name": "km"}, "transform": [{"filter": "datum.m == 'OS' && datum.s != 'a'"}], "mark": {"type": "line", "interpolate": "step-after", "strokeWidth": 1},
      "encoding": {
       "x": {"field": "t", "type": "quantitative", "scale": {"domain": [-6.8, 125], "nice": false, "zero": false}, "axis": {"title": "Months", "values": [0,20,40,60,80,100,120]}},
       "y": {"field": "v", "type": "quantitative", "scale": {"domain": [-0.055, 1.055], "nice": false, "zero": false}, "axis": {"title": "Cum Survival", "values": [0,0.2,0.4,0.6,0.8,1], "format": ".1f"}},
       "color": {"field": "g", "type": "nominal", "scale": {"domain": ["E","V"], "range": ["#3a58a8","#d0223f"]},
      "legend": {"title": null, "orient": "none", "legendX": 24, "legendY": 157, "padding": 0, "symbolType": "M-1,0H1M0,-0.45V0.45", "symbolSize": 361, "symbolStrokeWidth": 1.3, "symbolFillColor": "transparent", "labelFont": "Liberation Sans", "labelFontSize": 15, "labelOffset": 6, "rowPadding": 4, "labelLimit": 300,
       "labelExpr": "datum.value == 'E' ? 'Elderly (65-79 years)' : 'Very elderly (≥80 years)'",
       "encode": {"labels": {"update": {"fill": {"signal": "datum.value == 'E' ? '#4b66b3' : '#d42a45'"}}}}}}}},
     {"data": {"name": "km"}, "transform": [{"filter": "datum.m == 'OS' && datum.s != 'a' && datum.c == 1"}], "mark": {"type": "point", "shape": "M-1,0H1M0,-1V1", "filled": false, "size": 28, "strokeWidth": 1, "opacity": 1},
      "encoding": {"x": {"field": "t", "type": "quantitative"}, "y": {"field": "v", "type": "quantitative"}, "color": {"field": "g", "type": "nominal", "legend": null}}},
     {"data": {"name": "pv"}, "transform": [{"filter": "datum.panel == 'a'"}], "mark": {"type": "text", "align": "left", "baseline": "middle", "font": "Liberation Sans", "fontSize": 15, "color": "#222"}, "encoding": {"text": {"field": "p", "type": "nominal"}, "x": {"datum": 94}, "y": {"datum": 0.215}}}
    ]
   }]
  }]
 },
 {"title": {"text": "DFS before PSM", "anchor": "start", "font": "Liberation Sans", "fontSize": 17, "fontWeight": "normal", "color": "#222", "offset": 8, "dx": 38},
  "resolve": {"scale": {"color": "independent"}, "legend": {"color": "independent"}},
  "vconcat": [{"title": {"text": "Survival Functions", "anchor": "middle", "font": "Open Sans", "fontSize": 9.5, "fontWeight": "bold", "color": "#111", "offset": 2},
   "resolve": {"scale": {"color": "independent"}, "legend": {"color": "independent"}},
   "vconcat": [{
    "width": 347, "height": 234,
    "title": {"text": "b", "orient": "bottom", "anchor": "middle", "frame": "group", "font": "Liberation Sans", "fontSize": 20, "fontWeight": "normal", "color": "#111", "offset": 3},
    "layer": [
     {"data": {"name": "km"}, "transform": [{"filter": "datum.m == 'DFS' && datum.s != 'a'"}], "mark": {"type": "line", "interpolate": "step-after", "strokeWidth": 1},
      "encoding": {
       "x": {"field": "t", "type": "quantitative", "scale": {"domain": [-6.8, 125], "nice": false, "zero": false}, "axis": {"title": "Months", "values": [0,20,40,60,80,100,120]}},
       "y": {"field": "v", "type": "quantitative", "scale": {"domain": [-0.055, 1.055], "nice": false, "zero": false}, "axis": {"title": "Cum Survival", "values": [0,0.2,0.4,0.6,0.8,1], "format": ".1f"}},
       "color": {"field": "g", "type": "nominal", "scale": {"domain": ["E","V"], "range": ["#3a58a8","#d0223f"]},
      "legend": {"title": null, "orient": "none", "legendX": 24, "legendY": 157, "padding": 0, "symbolType": "M-1,0H1M0,-0.45V0.45", "symbolSize": 361, "symbolStrokeWidth": 1.3, "symbolFillColor": "transparent", "labelFont": "Liberation Sans", "labelFontSize": 15, "labelOffset": 6, "rowPadding": 4, "labelLimit": 300,
       "labelExpr": "datum.value == 'E' ? 'Elderly (65-79 years)' : 'Very elderly (≥80 years)'",
       "encode": {"labels": {"update": {"fill": {"signal": "datum.value == 'E' ? '#4b66b3' : '#d42a45'"}}}}}}}},
     {"data": {"name": "km"}, "transform": [{"filter": "datum.m == 'DFS' && datum.s != 'a' && datum.c == 1"}], "mark": {"type": "point", "shape": "M-1,0H1M0,-1V1", "filled": false, "size": 28, "strokeWidth": 1, "opacity": 1},
      "encoding": {"x": {"field": "t", "type": "quantitative"}, "y": {"field": "v", "type": "quantitative"}, "color": {"field": "g", "type": "nominal", "legend": null}}},
     {"data": {"name": "pv"}, "transform": [{"filter": "datum.panel == 'b'"}], "mark": {"type": "text", "align": "left", "baseline": "middle", "font": "Liberation Sans", "fontSize": 15, "color": "#222"}, "encoding": {"text": {"field": "p", "type": "nominal"}, "x": {"datum": 94}, "y": {"datum": 0.19}}}
    ]
   }]
  }]
 }
], "spacing": 20, "resolve": {"scale": {"color": "independent"}, "legend": {"color": "independent"}}},
{"hconcat": [
 {"title": {"text": "OS after PSM", "anchor": "start", "font": "Liberation Sans", "fontSize": 17, "fontWeight": "normal", "color": "#222", "offset": 8, "dx": 5},
  "resolve": {"scale": {"color": "independent"}, "legend": {"color": "independent"}},
  "vconcat": [{"title": {"text": "Survival Functions", "anchor": "middle", "font": "Open Sans", "fontSize": 9.5, "fontWeight": "bold", "color": "#111", "offset": 2},
   "resolve": {"scale": {"color": "independent"}, "legend": {"color": "independent"}},
   "vconcat": [{
    "width": 347, "height": 234,
    "title": {"text": "c", "orient": "bottom", "anchor": "middle", "frame": "group", "font": "Liberation Sans", "fontSize": 20, "fontWeight": "normal", "color": "#111", "offset": 3},
    "layer": [
     {"data": {"name": "km"}, "transform": [{"filter": "datum.m == 'OS' && datum.s != 'b'"}], "mark": {"type": "line", "interpolate": "step-after", "strokeWidth": 1},
      "encoding": {
       "x": {"field": "t", "type": "quantitative", "scale": {"domain": [-6.8, 125], "nice": false, "zero": false}, "axis": {"title": "Months", "values": [0,20,40,60,80,100,120]}},
       "y": {"field": "v", "type": "quantitative", "scale": {"domain": [-0.055, 1.055], "nice": false, "zero": false}, "axis": {"title": "Cum Survival", "values": [0,0.2,0.4,0.6,0.8,1], "format": ".1f"}},
       "color": {"field": "g", "type": "nominal", "scale": {"domain": ["E","V"], "range": ["#3a58a8","#d0223f"]},
      "legend": {"title": null, "orient": "none", "legendX": 24, "legendY": 157, "padding": 0, "symbolType": "M-1,0H1M0,-0.45V0.45", "symbolSize": 361, "symbolStrokeWidth": 1.3, "symbolFillColor": "transparent", "labelFont": "Liberation Sans", "labelFontSize": 15, "labelOffset": 6, "rowPadding": 4, "labelLimit": 300,
       "labelExpr": "datum.value == 'E' ? 'Elderly (65-79 years)' : 'Very elderly (≥80 years)'",
       "encode": {"labels": {"update": {"fill": {"signal": "datum.value == 'E' ? '#4b66b3' : '#d42a45'"}}}}}}}},
     {"data": {"name": "km"}, "transform": [{"filter": "datum.m == 'OS' && datum.s != 'b' && datum.c == 1"}], "mark": {"type": "point", "shape": "M-1,0H1M0,-1V1", "filled": false, "size": 28, "strokeWidth": 1, "opacity": 1},
      "encoding": {"x": {"field": "t", "type": "quantitative"}, "y": {"field": "v", "type": "quantitative"}, "color": {"field": "g", "type": "nominal", "legend": null}}},
     {"data": {"name": "pv"}, "transform": [{"filter": "datum.panel == 'c'"}], "mark": {"type": "text", "align": "left", "baseline": "middle", "font": "Liberation Sans", "fontSize": 15, "color": "#222"}, "encoding": {"text": {"field": "p", "type": "nominal"}, "x": {"datum": 91.2}, "y": {"datum": 0.19}}}
    ]
   }]
  }]
 },
 {"title": {"text": "DFS after PSM", "anchor": "start", "font": "Liberation Sans", "fontSize": 17, "fontWeight": "normal", "color": "#222", "offset": 8, "dx": 38},
  "resolve": {"scale": {"color": "independent"}, "legend": {"color": "independent"}},
  "vconcat": [{"title": {"text": "Survival Functions", "anchor": "middle", "font": "Open Sans", "fontSize": 9.5, "fontWeight": "bold", "color": "#111", "offset": 2},
   "resolve": {"scale": {"color": "independent"}, "legend": {"color": "independent"}},
   "vconcat": [{
    "width": 347, "height": 234,
    "title": {"text": "d", "orient": "bottom", "anchor": "middle", "frame": "group", "font": "Liberation Sans", "fontSize": 20, "fontWeight": "normal", "color": "#111", "offset": 3},
    "layer": [
     {"data": {"name": "km"}, "transform": [{"filter": "datum.m == 'DFS' && datum.s != 'b'"}], "mark": {"type": "line", "interpolate": "step-after", "strokeWidth": 1},
      "encoding": {
       "x": {"field": "t", "type": "quantitative", "scale": {"domain": [-6.8, 125], "nice": false, "zero": false}, "axis": {"title": "Months", "values": [0,20,40,60,80,100,120]}},
       "y": {"field": "v", "type": "quantitative", "scale": {"domain": [-0.055, 1.055], "nice": false, "zero": false}, "axis": {"title": "Cum Survival", "values": [0,0.2,0.4,0.6,0.8,1], "format": ".1f"}},
       "color": {"field": "g", "type": "nominal", "scale": {"domain": ["E","V"], "range": ["#3a58a8","#d0223f"]},
      "legend": {"title": null, "orient": "none", "legendX": 24, "legendY": 157, "padding": 0, "symbolType": "M-1,0H1M0,-0.45V0.45", "symbolSize": 361, "symbolStrokeWidth": 1.3, "symbolFillColor": "transparent", "labelFont": "Liberation Sans", "labelFontSize": 15, "labelOffset": 6, "rowPadding": 4, "labelLimit": 300,
       "labelExpr": "datum.value == 'E' ? 'Elderly (65-79 years)' : 'Very elderly (≥80 years)'",
       "encode": {"labels": {"update": {"fill": {"signal": "datum.value == 'E' ? '#4b66b3' : '#d42a45'"}}}}}}}},
     {"data": {"name": "km"}, "transform": [{"filter": "datum.m == 'DFS' && datum.s != 'b' && datum.c == 1"}], "mark": {"type": "point", "shape": "M-1,0H1M0,-1V1", "filled": false, "size": 28, "strokeWidth": 1, "opacity": 1},
      "encoding": {"x": {"field": "t", "type": "quantitative"}, "y": {"field": "v", "type": "quantitative"}, "color": {"field": "g", "type": "nominal", "legend": null}}},
     {"data": {"name": "pv"}, "transform": [{"filter": "datum.panel == 'd'"}], "mark": {"type": "text", "align": "left", "baseline": "middle", "font": "Liberation Sans", "fontSize": 15, "color": "#222"}, "encoding": {"text": {"field": "p", "type": "nominal"}, "x": {"datum": 94}, "y": {"datum": 0.19}}}
    ]
   }]
  }]
 }
], "spacing": 20, "resolve": {"scale": {"color": "independent"}, "legend": {"color": "independent"}}}
]
}
